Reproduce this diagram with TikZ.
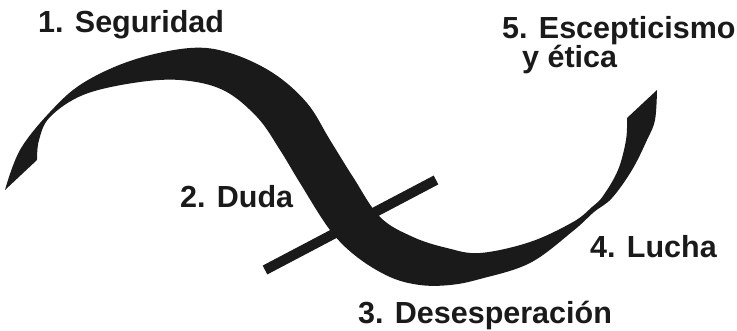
\documentclass[tikz,border=0pt]{standalone}
\usepackage{fontspec}
\setmainfont{Liberation Sans}
\usepackage{tikz}
\definecolor{ink}{HTML}{1A1A1A}

\begin{document}
\begin{tikzpicture}[x=1pt,y=-1pt,
	lbl/.style={anchor=base west,inner sep=0pt,text=ink,font=\fontsize{30.5}{30}\selectfont\bfseries}]
		\useasboundingbox (0,0) rectangle (737,330);
		\fill[ink] plot[smooth,tension=0.6] coordinates {(5,190) (20,150) (50,112) (83,83) (133,60) (190,48) (230,53) (273,73) (307,103) (330,140) (353,177) (380,217) (413,237) (447,248) (480,253) (530,242) (573,222) (592,207) (603,196) (618,170) (626,140) (627,118)}
			-- plot[smooth,tension=0.6] coordinates {(657,90) (655,120) (647,140) (632,170) (612,198) (594,212) (573,231) (530,263) (480,279) (450,285) (420,285) (390,277) (357,257) (330,230) (300,183) (280,150) (257,117) (223,90) (180,80) (133,83) (83,95) (50,117) (39,140) (37,160)} -- cycle;
		\draw[ink,line width=10pt] (265,270) -- (436,180);
		\node[lbl] (seguridad) at (38,32) {1. Seguridad};
		\node[lbl] (duda) at (180,207) {2. Duda};
		\node[lbl] (desesperacion) at (358,323) {3. Desesperación};
		\node[lbl] (lucha) at (590,257) {4. Lucha};
		\node[lbl] (escepticismo) at (502,38) {5. Escepticismo};
		\node[lbl] (etica) at (522,67) {y ética};
	\end{tikzpicture}
\end{document}
